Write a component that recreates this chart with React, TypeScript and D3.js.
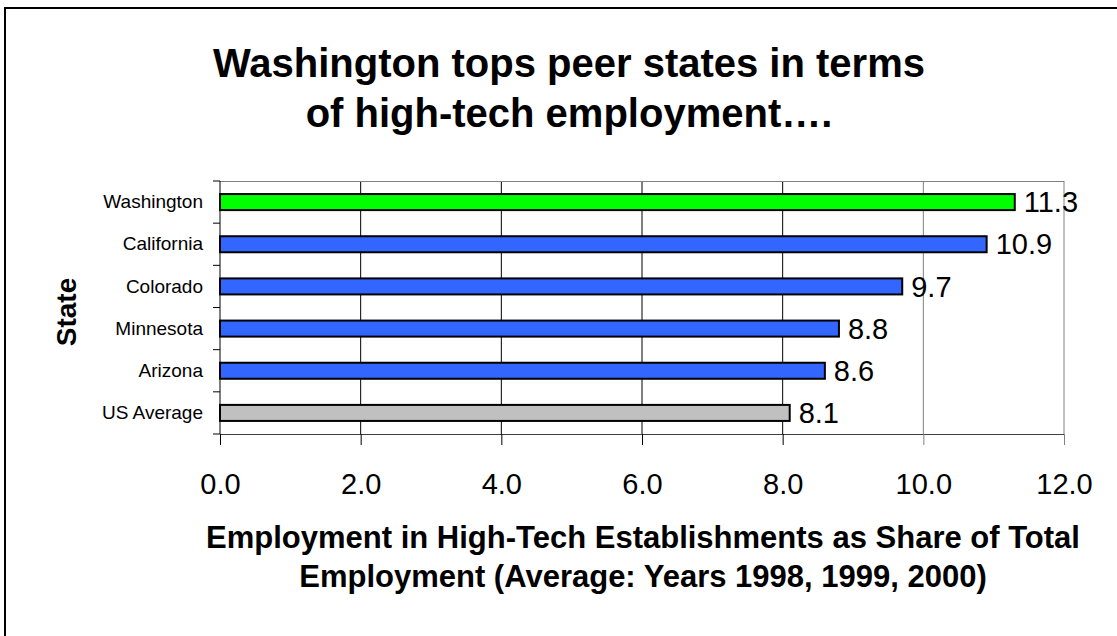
import * as React from 'react';
import * as d3 from 'd3';

const states: string[] = ["Washington", "California", "Colorado", "Minnesota", "Arizona", "US Average"];
const shares: number[] = [11.3, 10.9, 9.7, 8.8, 8.6, 8.1];
const barColors: string[] = ["#00FF00", "#3366FF", "#3366FF", "#3366FF", "#3366FF", "#C0C0C0"];
const xTicks: number[] = [0, 2, 4, 6, 8, 10, 12];
const titleLines: string[] = ["Washington tops peer states in terms", "of high-tech employment…."];
const xTitleLines: string[] = [
    "Employment in High-Tech Establishments as Share of Total",
    "Employment (Average: Years 1998, 1999, 2000)",
];
const yTitle = "State";

const FONT = "'Liberation Sans', Arial, Helvetica, sans-serif";

class App extends React.Component<{}, {}> {
    private chartRef: React.RefObject<SVGSVGElement | null> = React.createRef();
    private dim = {
        width: 1117,
        height: 636,
        left: 220,
        top: 181,
        plotW: 844,
        plotH: 253,
    }

    componentDidMount() {
        const { left, top, plotW, plotH } = this.dim;
        const svg = d3.select(this.chartRef.current);
        svg.selectAll("*").remove();

        // outer frame (only left/top edges show in the picture)
        svg.append("rect")
            .attr("x", 5).attr("y", 8)
            .attr("width", 1200).attr("height", 700)
            .attr("fill", "white")
            .attr("stroke", "black")
            .attr("stroke-width", 2);

        // title
        svg.append("text")
            .attr("font-family", FONT)
            .attr("font-weight", "bold")
            .attr("font-size", 40)
            .attr("text-anchor", "middle")
            .selectAll("tspan")
            .data(titleLines)
            .join("tspan")
            .attr("x", 569)
            .attr("y", (_, i) => 77 + i * 50)
            .text(d => d);

        const xScale = d3.scaleLinear().domain([0, 12]).range([0, plotW]);
        const yScale = d3.scaleBand<string>().domain(states).range([0, plotH])
            .paddingInner(0.62).paddingOuter(0.31);

        const g = svg.append("g").attr("transform", `translate(${left}, ${top})`);

        // vertical gridlines
        g.selectAll(".grid")
            .data(xTicks.filter(v => v > 0 && v < 12))
            .join("line")
            .attr("x1", d => xScale(d)).attr("x2", d => xScale(d))
            .attr("y1", 0).attr("y2", plotH)
            .attr("stroke", d => d >= 10 ? "#808080" : "#000")
            .attr("stroke-width", 1);

        // plot frame top / right
        g.append("line")
            .attr("x1", 0).attr("x2", plotW).attr("y1", 0.5).attr("y2", 0.5)
            .attr("stroke", "#808080");
        g.append("line")
            .attr("x1", plotW).attr("x2", plotW).attr("y1", 0).attr("y2", plotH)
            .attr("stroke", "#808080");

        // bars
        g.selectAll(".bar")
            .data(states)
            .join("rect")
            .attr("x", 0)
            .attr("y", d => yScale(d)!)
            .attr("width", (_, i) => xScale(shares[i]))
            .attr("height", yScale.bandwidth())
            .attr("fill", (_, i) => barColors[i])
            .attr("stroke", "black")
            .attr("stroke-width", 2);

        // value labels
        g.selectAll(".val")
            .data(states)
            .join("text")
            .attr("x", (_, i) => xScale(shares[i]) + 9)
            .attr("y", d => yScale(d)! + yScale.bandwidth() / 2)
            .attr("dy", "0.35em")
            .attr("font-family", FONT)
            .attr("font-size", 29)
            .attr("fill", "black")
            .text((_, i) => d3.format(".1f")(shares[i]));

        // x axis
        const xAxis = d3.axisBottom(xScale)
            .tickValues(xTicks)
            .tickFormat(d => d3.format(".1f")(d as number))
            .tickSize(11)
            .tickSizeOuter(0)
            .tickPadding(28);
        g.append("g")
            .attr("transform", `translate(0, ${plotH})`)
            .call(xAxis)
            .call(a => a.select(".domain").attr("stroke", "#404040"))
            .call(a => a.selectAll(".tick line").attr("stroke", (d: any) => d >= 10 ? "#808080" : "#000"))
            .call(a => a.selectAll(".tick text")
                .attr("font-family", FONT)
                .attr("font-size", 29)
                .attr("fill", "black"));

        // y axis
        const yAxis = d3.axisLeft(yScale).tickSize(0).tickPadding(17);
        g.append("g")
            .call(yAxis)
            .call(a => a.select(".domain").remove())
            .call(a => a.selectAll(".tick text")
                .attr("font-family", FONT)
                .attr("font-size", 19)
                .attr("fill", "black"));
        g.append("line")
            .attr("x1", 0).attr("x2", 0).attr("y1", 0).attr("y2", plotH)
            .attr("stroke", "black");
        g.selectAll(".ytick")
            .data(d3.range(states.length + 1))
            .join("line")
            .attr("x1", -7).attr("x2", 0)
            .attr("y1", i => i * yScale.step()).attr("y2", i => i * yScale.step())
            .attr("stroke", "black");

        // axis titles
        svg.append("text")
            .attr("transform", `translate(76, 312) rotate(-90)`)
            .attr("text-anchor", "middle")
            .attr("font-family", FONT)
            .attr("font-weight", "bold")
            .attr("font-size", 28)
            .text(yTitle);

        svg.append("text")
            .attr("font-family", FONT)
            .attr("font-weight", "bold")
            .attr("font-size", 31)
            .attr("text-anchor", "middle")
            .selectAll("tspan")
            .data(xTitleLines)
            .join("tspan")
            .attr("x", 643)
            .attr("y", (_, i) => 548 + i * 38.5)
            .text(d => d);
    }

    render() {
        return (
            <svg ref={this.chartRef}
                width={this.dim.width}
                height={this.dim.height}
                style={{ position: 'absolute', left: 0, top: 0, background: 'white' }}>
            </svg>
        );
    }
}

export default App;
